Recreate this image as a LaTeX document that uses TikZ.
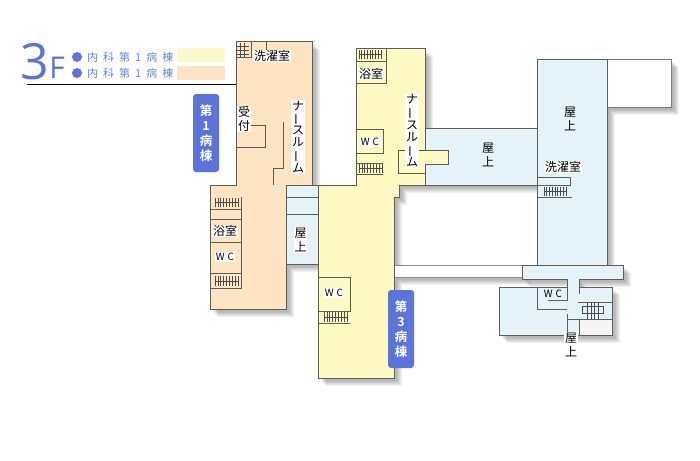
\documentclass[tikz,border=0pt]{standalone}
\usepackage{fontspec}
\usepackage{graphicx}
\setmainfont{Noto Sans CJK JP}
\newfontfamily\jpb{Noto Sans CJK JP Bold}
\newfontfamily\latinf{Open Sans}
\definecolor{wallc}{HTML}{5E5E56}
\definecolor{orangef}{HTML}{FDE5C3}
\definecolor{yellowf}{HTML}{FEF8C2}
\definecolor{bluef}{HTML}{E4F2F9}
\definecolor{badge}{HTML}{5A74DC}
\definecolor{legendc}{HTML}{6C84E0}
\tikzset{
  wall/.style={draw=wallc,line width=1pt},
  thinwall/.style={draw=wallc,line width=1pt},
  stairl/.style={draw=black!70,line width=.6pt},
  lbl/.style={fill=white,inner sep=.6pt,font=\fontsize{12}{13}\selectfont,align=center,text=black},
  wclbl/.style={fill=white,inner sep=1pt,font=\fontsize{10}{11}\selectfont,text=black},
  tag/.style={fill=badge,rounded corners=3pt,minimum width=26pt,minimum height=78pt,inner sep=0pt,text=white,align=center,font=\jpb\fontsize{12.5}{15}\selectfont},
  legendt/.style={text=legendc,inner sep=0pt,anchor=west,font=\fontsize{11}{12}\selectfont},
}
\newcommand{\shadowof}[1]{\foreach \o in {8,7,6,5,4,3}{\fill[black,opacity=.05,shift={(\o,\o)}] #1;}}
\newcommand{\stairsh}[4]{% x1 x2 y1 y2
  \draw[stairl] (#1,{(#3+#4)/2}) -- (#2,{(#3+#4)/2});
  \foreach \f in {0,.125,...,1.01}{\draw[stairl] ({#1+\f*(#2-#1)},#3) -- ({#1+\f*(#2-#1)},#4);}}
\newcommand{\chodash}{\rotatebox[origin=c]{90}{ー}}
\begin{document}
\begin{tikzpicture}[x=1pt,y=-1pt]
\useasboundingbox (0,0) rectangle (700,460);
\fill[white] (0,0) rectangle (700,460);
% shadows
\shadowof{(236,42)--(312,42)--(312,185)--(286,185)--(286,309)--(210,309)--(210,185)--(236,185)--cycle}
\shadowof{(286,185)--(318,185)--(318,264)--(286,264)--cycle}
\shadowof{(356,49)--(425,49)--(425,185)--(399,185)--(399,197)--(394,197)--(394,378)--(318,378)--(318,185)--(356,185)--cycle}
\shadowof{(425,128) rectangle (537,185)}
\shadowof{(537,59) rectangle (607,265)}
\shadowof{(607,59) rectangle (671,107)}
\shadowof{(394,265) rectangle (523,277)}
\shadowof{(499,287)--(567,287)--(567,279)--(522,279)--(522,265)--(623,265)--(623,279)--(579,279)--(579,287)--(612,287)--(612,335)--(499,335)--cycle}
% corridor and white parts
\path[wall,draw=wallc!80,fill=white] (607,59) rectangle (671,107);
\path[wall,draw=wallc!70,fill=white] (394,265) rectangle (523,277);
% orange wing
\path[wall,fill=orangef] (236,42)--(312,42)--(312,185)--(286,185)--(286,309)--(210,309)--(210,185)--(236,185)--cycle;
% roof strip
\path[wall,fill=bluef] (286,185) rectangle (318,264);
\draw[wall] (286,197)--(318,197) (286,214)--(318,214);
% blue wings
\path[wall,fill=bluef] (425,128) rectangle (537,185);
\path[wall,fill=bluef] (537,59) rectangle (607,265);
\path[wall,fill=bluef] (499,287)--(567,287)--(567,279)--(522,279)--(522,265)--(623,265)--(623,279)--(579,279)--(579,287)--(612,287)--(612,335)--(499,335)--cycle;
\fill[white!96!black] (579,319) rectangle (612,335);
\draw[wall] (579,319)--(612,319)--(612,335)--(579,335);
% yellow wing
\path[wall,fill=yellowf] (356,49)--(425,49)--(425,185)--(399,185)--(399,197)--(394,197)--(394,378)--(318,378)--(318,185)--(356,185)--cycle;
\path[wall,fill=yellowf] (425,150)--(448,150)--(448,164)--(425,164);
\fill[yellowf] (423,150.5) rectangle (426,163.5);
% orange interior
\draw[thinwall] (251,42)--(251,57)--(236,57);
\draw[thinwall] (266,42)--(266,52);
\foreach \y in {46,50,54}{\draw[stairl] (236,\y)--(249,\y);}
\foreach \x in {240,244}{\draw[stairl] (\x,43)--(\x,57);}
\draw[thinwall] (250,125)--(265,125)--(265,147)--(236,147);
\draw[thinwall] (283,122)--(283,168)--(273,168)--(273,185);
\draw[thinwall] (241,197)--(241,288)--(210,288);
\draw[thinwall] (210,209)--(241,209) (210,219)--(241,219) (210,242)--(241,242) (210,273)--(241,273);
\stairsh{215}{238}{198}{207}
\stairsh{215}{238}{276}{286}
% yellow interior
\draw[thinwall] (386,49)--(386,83)--(356,83) (356,61)--(386,61);
\stairsh{359}{381}{50}{59}
\draw[thinwall] (356,129)--(383,129)--(383,153)--(356,153);
\draw[thinwall] (356,163)--(383,163) (356,174)--(383,174);
\stairsh{359}{382}{164}{173}
\draw[thinwall] (425,150)--(398,150)--(398,173)--(425,173);
\draw[thinwall] (318,277)--(350,277)--(350,311)--(318,311) (318,323)--(350,323);
\stairsh{324}{347}{312}{322}
% blue interior
\draw[thinwall] (537,177)--(570,177)--(570,185)--(537,185) (537,197)--(572,197);
\stairsh{544}{566}{187}{196}
\draw[thinwall] (537,287)--(537,309)--(567,309);
\draw[thinwall] (567,279)--(567,300)--(548,300);
\draw[thinwall] (567,314)--(567,335);
\draw[thinwall] (579,279)--(579,294);
\draw[thinwall] (578,302)--(612,302) (567,319)--(612,319) (579,319)--(579,335);
\foreach \x in {587,591,594,598}{\draw[stairl] (\x,302)--(\x,319);}
\draw[stairl] (582,306) rectangle (603,313);
% legend
\draw[black,line width=1pt] (27,84)--(236,84);
\node[text=badge,inner sep=0pt,anchor=center,font=\latinf\fontsize{50}{50}\selectfont] (three) at (35,62) {3};
\node[text=badge,inner sep=0pt,anchor=center,font=\latinf\fontsize{30}{30}\selectfont] (eff) at (57,68) {F};
\node[circle,fill=badge,minimum size=10pt,inner sep=0pt] (b1) at (77,57) {};
\node[circle,fill=badge,minimum size=10pt,inner sep=0pt] (b2) at (77,73) {};
\node[legendt] (t1) at (87,57.5) {内\hspace{5pt}科\hspace{5pt}第\hspace{5pt}1\hspace{5pt}病\hspace{5pt}棟};
\node[legendt] (t2) at (87,73.5) {内\hspace{5pt}科\hspace{5pt}第\hspace{5pt}1\hspace{5pt}病\hspace{5pt}棟};
\node[fill=yellowf!85!white,minimum width=48pt,minimum height=14pt,inner sep=0pt] (k1) at (201,55) {};
\node[fill=orangef,minimum width=48pt,minimum height=14pt,inner sep=0pt] (k2) at (201,73) {};
% tags
\node[tag] (tag1) at (206,133) {第\\1\\病\\棟};
\node[tag] (tag3) at (401,329) {第\\3\\病\\棟};
% labels
\node[lbl] (a1) at (272,56) {洗濯室};
\node[lbl] (a2) at (244,119) {受\\[1pt]付};
\node[lbl,font=\fontsize{12}{12.2}\selectfont] (a3) at (298,137) {ナ\\\chodash\\ス\\ル\\\chodash\\ム};
\node[lbl] (a4) at (225,231) {浴室};
\node[wclbl] (a5) at (225,257) {W\hspace{3pt}C};
\node[lbl] (a6) at (300.5,240) {屋\\[1pt]上};
\node[wclbl] (a7) at (334,293) {W\hspace{3pt}C};
\node[lbl] (a8) at (371,74) {浴室};
\node[wclbl] (a9) at (370,142) {W\hspace{3pt}C};
\node[lbl,font=\fontsize{12}{12.6}\selectfont] (a10) at (412,131) {ナ\\\chodash\\ス\\ル\\\chodash\\ム};
\node[lbl,fill=none] (a11) at (488,155) {屋\\[1pt]上};
\node[lbl,fill=none] (a12) at (570,119) {屋\\[1pt]上};
\node[lbl,fill=white] (a13) at (563,167) {洗濯室};
\node[wclbl,fill=none] (a14) at (553,294) {W\hspace{3pt}C};
\node[lbl] (a15) at (571,345) {屋\\[1pt]上};
\end{tikzpicture}
\end{document}
